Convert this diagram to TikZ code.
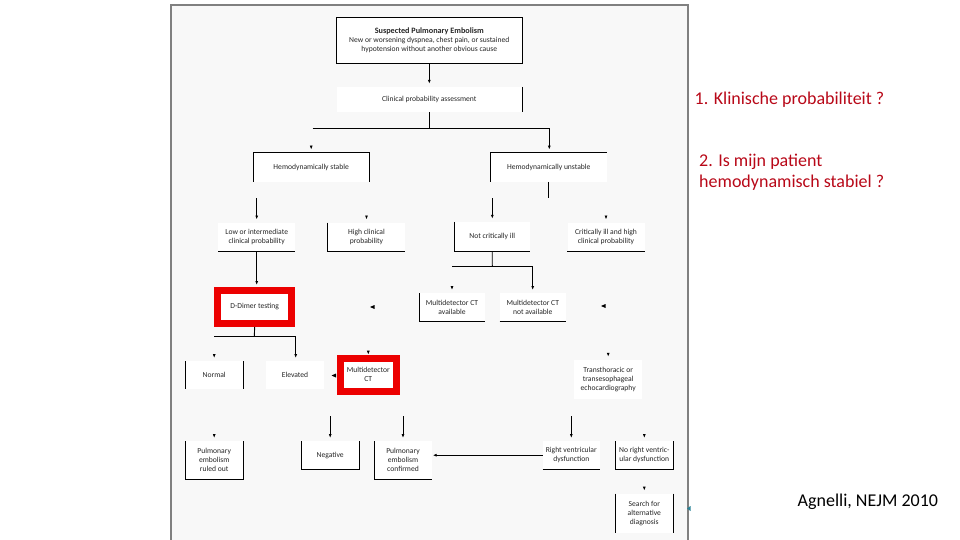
\documentclass[tikz,border=0pt]{standalone}
\usepackage{fontspec}
\setmainfont{Carlito}
\usetikzlibrary{arrows.meta}
\definecolor{slidered}{RGB}{184,8,24}
\definecolor{framered}{RGB}{236,0,0}
\definecolor{panelgray}{RGB}{248,248,248}
\definecolor{panelline}{RGB}{128,128,128}
\definecolor{markteal}{RGB}{40,130,150}

\begin{document}
\begin{tikzpicture}[
  x=1pt, y=-1pt,
  box/.style={
    fill=white, inner sep=0pt, align=center,
    font=\fontsize{7.6}{9}\selectfont, text=black!85
  },
  redbox/.style={
    box, draw=framered, line width=7pt
  },
  edge/.style={line width=1pt, black},
  flow/.style={line width=0.9pt, black},
  arrow/.style={flow, -{Latex[length=4pt,width=3pt]}, shorten >=3pt},
  slidetext/.style={font=\fontsize{18}{21}\selectfont, text=slidered,
    align=left, anchor=west, inner sep=0pt},
]
\useasboundingbox (0,0) rectangle (960,540);

% panel with the flow chart
\draw[panelline, fill=panelgray, line width=1.3pt] (171,5) rectangle (688,548);

% boxes
\node[box, minimum width=185, minimum height=45] (suspected) at (429.3,40.5)
  {{\fontsize{8.2}{10}\selectfont\bfseries Suspected Pulmonary Embolism}\\[0pt]
   New or worsening dyspnea, chest pain, or sustained\\
   hypotension without another obvious cause};
\node[box, minimum width=185, minimum height=25] (assess) at (429.3,99.5)
  {Clinical probability assessment};
\node[box, minimum width=116, minimum height=29] (stable) at (311.2,167.3)
  {Hemodynamically stable};
\node[box, minimum width=116, minimum height=29] (unstable) at (548.8,167.3)
  {Hemodynamically unstable};
\node[box, minimum width=77, minimum height=29] (lowint) at (256.7,237.2)
  {Low or intermediate\\clinical probability};
\node[box, minimum width=77, minimum height=29] (highprob) at (366.5,237.2)
  {High clinical\\probability};
\node[box, minimum width=76, minimum height=29] (notcrit) at (492.2,236.5)
  {Not critically ill};
\node[box, minimum width=77, minimum height=29] (critical) at (606,237.2)
  {Critically ill and high\\clinical probability};
\node[redbox, minimum width=74, minimum height=33] (ddimer) at (254.7,307)
  {D-Dimer testing};
\node[box, minimum width=65, minimum height=28] (ctavail) at (452,307.2)
  {Multidetector CT\\available};
\node[box, minimum width=66, minimum height=28] (ctnone) at (532.8,307.2)
  {Multidetector CT\\not available};
\node[box, minimum width=58, minimum height=28] (normal) at (214.2,375.2)
  {Normal};
\node[box, minimum width=58, minimum height=28] (elevated) at (295,375.2)
  {Elevated};
\node[redbox, minimum width=56, minimum height=33] (mdct) at (368.3,374.7)
  {Multidetector\\CT};
\node[box, minimum width=68, minimum height=39] (echo) at (608.2,379.5)
  {Transthoracic or\\transesophageal\\echocardiography};
\node[box, minimum width=58, minimum height=38] (ruledout) at (214.2,460.2)
  {Pulmonary\\embolism\\ruled out};
\node[box, minimum width=58, minimum height=28] (negative) at (330.2,455.2)
  {Negative};
\node[box, minimum width=57, minimum height=38] (confirmed) at (403,460.2)
  {Pulmonary\\embolism\\confirmed};
\node[box, minimum width=57, minimum height=28] (rvdys) at (571.3,455.2)
  {Right ventricular\\dysfunction};
\node[box, minimum width=58, minimum height=28] (norvdys) at (644.3,455.2)
  {No right ventric-\\ular dysfunction};
\node[box, minimum width=58, minimum height=39] (search) at (644.3,513.3)
  {Search for\\alternative\\diagnosis};

% visible box edges
\draw[edge] (suspected.north west) rectangle (suspected.south east);
\draw[edge] (assess.north east) -- (assess.south east);
\draw[edge] (stable.south west) -- (stable.north west) -- (stable.north east) -- (stable.south east);
\draw[edge] (unstable.south west) -- (unstable.north west) -- (unstable.north east);
\draw[edge] (lowint.south west) -- (lowint.south east);
\draw[edge] (highprob.north west) -- (highprob.south west) -- (highprob.south east);
\draw[edge] (notcrit.north west) -- (notcrit.south west) -- (notcrit.south east);
\draw[edge] (critical.south west) -- (critical.south east);
\draw[edge] (ctavail.north west) -- (ctavail.south west) -- (ctavail.south east);
\draw[edge] (ctnone.south west) -- (ctnone.south east);
\draw[edge] (normal.north west) -- (normal.south west);
\draw[edge] (normal.north east) -- (normal.south east);
\draw[edge] (ruledout.north west) -- (ruledout.south west) -- (ruledout.south east) -- (ruledout.north east);
\draw[edge] (negative.north west) -- (negative.south west) -- (negative.south east) -- (negative.north east);
\draw[edge] (confirmed.north west) -- (confirmed.south west) -- (confirmed.south east);
\draw[edge] (rvdys.south west) -- (rvdys.south east);
\draw[edge] (norvdys.north west) -- (norvdys.south west) -- (norvdys.south east) -- (norvdys.north east);
\draw[edge] (search.north west) -- (search.south west);
\draw[edge] (search.north east) -- (search.south east);

% branch points
\coordinate (split)  at (429.3,128.3);
\coordinate (splitL) at (312.7,128.3);
\coordinate (splitR) at (549.3,128.3);
\coordinate (stableL) at (256.7,198);
\coordinate (unstableL) at (492.3,198);
\coordinate (ncsplit) at (492.3,266.7);
\coordinate (ncL) at (452.3,266.7);
\coordinate (ncR) at (532.7,266.7);
\coordinate (ddsplit) at (254.3,336);
\coordinate (ddL) at (214.3,336);
\coordinate (ddR) at (295.7,336);

% connectors
\draw[arrow] (suspected) -- (assess);
\draw[flow] (assess.south) -- (split);
\draw[flow] (splitL) -- (splitR);
\draw[arrow] (splitR) -- (splitR |- unstable.north);
\draw[arrow] (stable.north) ++(0,-7) -- (stable.north);
\draw[flow] (unstable.south) -- ++(0,16);
\draw[arrow] (stableL) -- (stableL |- lowint.north);
\draw[arrow] (highprob.north) ++(0,-7) -- (highprob.north);
\draw[arrow] (unstableL) -- (unstableL |- notcrit.north);
\draw[arrow] (critical.north) ++(0,-7) -- (critical.north);
\draw[arrow, shorten >=2pt] (lowint.south) -- (lowint.south |- ddimer.north);
\draw[flow] (notcrit.south) -- (ncsplit);
\draw[flow] (ncL) -- (ncR);
\draw[arrow] (ncR) -- (ncR |- ctnone.north);
\draw[arrow] (ctavail.north) ++(0,-7) -- (ctavail.north);
\draw[flow] (ddimer.south) -- (ddsplit);
\draw[flow] (ddL) -- (ddR);
\draw[arrow] (ddR) -- (ddR |- elevated.north);
\draw[arrow] (normal.north) ++(0,-7) -- (normal.north);
\draw[arrow, shorten >=0pt] (mdct.north) ++(0,-4) -- (mdct.north);
\draw[arrow] (echo.north) ++(0,-7) -- (echo.north);
\draw[arrow] (negative.north) ++(0,-25) -- (negative.north);
\draw[arrow] (confirmed.north) ++(0,-25) -- (confirmed.north);
\draw[arrow] (rvdys.north) ++(0,-25) -- (rvdys.north);
\draw[arrow] (ruledout.north) ++(0,-7) -- (ruledout.north);
\draw[arrow] (norvdys.north) ++(0,-7) -- (norvdys.north);
\draw[arrow, shorten >=1pt] (rvdys.west) -- (rvdys.west -| confirmed.east);
\draw[arrow] (search.north) ++(0,-7) -- (search.north);

% small stray tips
\fill (370,307) -- (374.5,305) -- (374.5,309) -- cycle;
\fill (601,306) -- (605.5,304) -- (605.5,308) -- cycle;
\fill (331.5,375.5) -- (336,373.5) -- (336,377.5) -- cycle;
\fill[markteal] (687,508.5) -- (690.5,506) -- (690.5,511) -- cycle;

% slide text
\node[slidetext] (q1) at (694.5,100) {1. Klinische probabiliteit ?};
\node[slidetext] (q2) at (699,172.5) {2. Is mijn patient\\hemodynamisch stabiel ?};
\node[slidetext, text=black] (cite) at (797.5,502) {Agnelli, NEJM 2010};

\end{tikzpicture}
\end{document}
